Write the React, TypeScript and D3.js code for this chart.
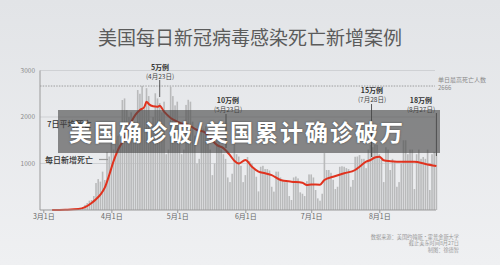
import React, { useEffect, useRef } from 'react';
import * as d3 from 'd3';

// daily new deaths, Mar 1 .. Aug 27 (one value per day)
const marchDeaths = [1, 1, 2, 3, 2, 1, 3, 4, 5, 6, 8, 7, 12, 10, 14, 20, 28, 40, 60, 110, 150, 200, 215, 300, 580, 665, 610, 825, 645, 1250, 1150];
const aprilDeaths = [1650, 1300, 1500, 1600, 1400, 2365, 2400, 2150, 2000, 2100, 1900, 1600, 2580, 2500, 2666, 2200, 2620, 2450, 1700, 2000, 2510, 2400, 2300, 2100, 2330, 1200, 1300, 2650, 2450, 2250];
const mayDeaths = [2330, 1800, 1200, 1300, 2260, 2370, 2330, 1900, 1600, 1000, 1100, 1800, 1750, 1800, 1650, 1300, 750, 1000, 1500, 1500, 1300, 1200, 1100, 700, 600, 780, 1500, 1200, 1150, 950, 600];
const juneDeaths = [750, 1140, 1050, 1000, 900, 715, 400, 930, 950, 880, 880, 850, 500, 395, 825, 825, 700, 645, 600, 600, 300, 215, 700, 720, 680, 380, 350, 300, 620, 765];
const julyDeaths = [765, 700, 430, 250, 200, 350, 1225, 860, 860, 800, 650, 450, 500, 930, 940, 930, 900, 880, 500, 645, 1145, 1150, 1180, 1100, 1100, 900, 1300, 1400, 1350, 1400, 1400];
const augustDeaths = [1200, 1075, 600, 1350, 1300, 860, 1100, 1050, 500, 600, 1000, 1500, 1500, 1200, 1300, 1300, 450, 1200, 1300, 1100, 1140, 1100, 1300, 430, 1200, 1250, 1225];

// 7-day average (day index from Mar 1, value)
const avgDay = [4, 10, 16, 19, 22, 24, 26, 28, 30, 32, 34, 37, 39, 42, 44, 46, 47, 48, 50, 52, 53, 55, 58, 61, 63, 66, 70, 73, 76, 79, 82, 85, 87, 89, 92, 95, 98, 101, 104, 108, 113, 118, 120, 122, 126, 128, 132, 137, 142, 144, 147, 149, 151, 153, 155, 158, 161, 165, 169, 174, 179];
const avgDeaths = [0, 5, 20, 60, 150, 230, 330, 480, 750, 1050, 1290, 1550, 1785, 2050, 2150, 2215, 2330, 2280, 2230, 2220, 2240, 2115, 1980, 1900, 1860, 1830, 1720, 1685, 1550, 1400, 1330, 1180, 1060, 1000, 1075, 930, 825, 790, 750, 645, 610, 585, 540, 550, 545, 645, 715, 790, 860, 930, 1040, 1075, 1130, 1145, 1070, 1050, 1040, 1040, 1040, 990, 945];

const yTicks = [1000, 2000, 3000];
const monthTicks = [2, 3, 4, 5, 6, 7]; // Mar .. Aug (0-based months)
const maxDeaths = 2666;

// milestones: cumulative cases label, date label, day index
const milestoneLabels = ['5万例', '10万例', '15万例', '18万例'];
const milestoneDates = ['(4月23日)', '(5月23日)', '(7月28日)', '(8月27日)'];
const milestoneDays = [53, 83, 149, 179];

const sourceLines = ['数据来源：美国约翰斯·霍普金斯大学', '截止美东时间8月27日', '制图：徐德智'];

const FONT = '"Noto Sans CJK SC", "Noto Sans", sans-serif';

const App: React.FC = () => {
  const svgRef = useRef<SVGSVGElement | null>(null);

  useEffect(() => {
    if (!svgRef.current) return;
    const width = 500, height = 265;
    const svg = d3.select(svgRef.current);
    svg.selectAll('*').remove();

    const daily = [...marchDeaths, ...aprilDeaths, ...mayDeaths, ...juneDeaths, ...julyDeaths, ...augustDeaths];
    const start = new Date(Date.UTC(2020, 2, 1));
    const day = (i: number) => d3.utcDay.offset(start, i);

    const x = d3.scaleUtc()
      .domain([start, new Date(Date.UTC(2020, 7, 1))])
      .range([43.3, 379.3]);
    const y = d3.scaleLinear().domain([0, 3000]).range([210, 70.5]);
    const left = 40, right = 436;

    const defs = svg.append('defs');
    const grad = defs.append('linearGradient').attr('id', 'bg').attr('x1', 0).attr('y1', 0).attr('x2', 0).attr('y2', 1);
    grad.append('stop').attr('offset', '0%').attr('stop-color', '#e2e4e7');
    grad.append('stop').attr('offset', '100%').attr('stop-color', '#eff0f2');
    svg.append('rect').attr('width', width).attr('height', height).attr('fill', 'url(#bg)');

    svg.append('text')
      .attr('x', 250).attr('y', 45)
      .attr('text-anchor', 'middle')
      .attr('font-family', FONT).attr('font-size', 19)
      .attr('fill', '#5b5b5b')
      .text('美国每日新冠病毒感染死亡新增案例');

    // grid
    svg.append('g').selectAll('line').data(yTicks).join('line')
      .attr('x1', left).attr('x2', 435)
      .attr('y1', d => y(d)).attr('y2', d => y(d))
      .attr('stroke', '#cfd1d4').attr('stroke-width', 1);

    svg.append('g')
      .attr('font-family', FONT).attr('font-size', 6.5).attr('fill', '#8a8a8a')
      .attr('text-anchor', 'end')
      .selectAll('text').data(yTicks).join('text')
      .attr('x', 35).attr('y', d => y(d)).attr('dy', '0.35em')
      .text(d => d);

    // bars
    svg.append('g').selectAll('rect').data(daily).join('rect')
      .attr('x', (d, i) => x(day(i)) - 0.8)
      .attr('width', 1.6)
      .attr('y', d => y(d))
      .attr('height', d => y(0) - y(d))
      .attr('fill', '#b9babb');

    // max line
    svg.append('line')
      .attr('x1', left).attr('x2', 435)
      .attr('y1', y(maxDeaths)).attr('y2', y(maxDeaths))
      .attr('stroke', '#8c8c8c').attr('stroke-width', 0.8)
      .attr('stroke-dasharray', '1.5,1.2');
    svg.append('text')
      .attr('x', 438).attr('y', 81.5)
      .attr('font-family', FONT).attr('font-size', 6).attr('fill', '#8a8a8a')
      .text('单日最高死亡人数');
    svg.append('text')
      .attr('x', 438).attr('y', 89.5)
      .attr('font-family', FONT).attr('font-size', 6).attr('fill', '#8a8a8a')
      .text(maxDeaths);

    // 7-day average
    const line = d3.line<number>()
      .x((d, i) => x(day(avgDay[i])))
      .y(d => y(d))
      .curve(d3.curveMonotoneX);
    svg.append('path')
      .attr('d', line(avgDeaths))
      .attr('fill', 'none')
      .attr('stroke', '#e0321e')
      .attr('stroke-width', 2)
      .attr('stroke-linejoin', 'round');

    // axes
    svg.append('line')
      .attr('x1', left).attr('x2', left).attr('y1', y(3000)).attr('y2', y(0))
      .attr('stroke', '#9a9a9a');
    svg.append('line')
      .attr('x1', left).attr('x2', right).attr('y1', y(0)).attr('y2', y(0))
      .attr('stroke', '#9a9a9a');

    const xAxis = d3.axisBottom(x)
      .tickValues(monthTicks.map(m => new Date(Date.UTC(2020, m, 1))))
      .tickFormat(d => d3.utcFormat('%-m月%-d日')(d as Date))
      .tickSize(3)
      .tickSizeOuter(0);
    const gx = svg.append('g').attr('transform', `translate(0,${y(0)})`).call(xAxis);
    gx.select('.domain').remove();
    gx.selectAll('line').attr('stroke', '#9a9a9a');
    gx.selectAll('text')
      .attr('font-family', FONT).attr('font-size', 7).attr('fill', '#666')
      .attr('dy', '0.9em').attr('y', 3);

    // legend labels (the first sits under the banner, as in the source image)
    svg.append('text')
      .attr('x', 47).attr('y', 127)
      .attr('font-family', FONT).attr('font-size', 8).attr('font-weight', 500).attr('fill', '#333')
      .text('7日平均死亡');
    svg.append('line')
      .attr('x1', 99).attr('x2', 108).attr('y1', 124).attr('y2', 124)
      .attr('stroke', '#e0321e').attr('stroke-width', 1.5);
    svg.append('text')
      .attr('x', 45).attr('y', 162.5)
      .attr('font-family', FONT).attr('font-size', 8).attr('font-weight', 500).attr('fill', '#333')
      .text('每日新增死亡');
    svg.append('line')
      .attr('x1', 99).attr('x2', 108).attr('y1', 159.5).attr('y2', 159.5)
      .attr('stroke', '#999').attr('stroke-width', 1.2);

    // milestones
    const labelX = [160, 228, 372, 421];
    const labelY = [69.5, 102.5, 92.5, 102.5];
    const lineTop = [80, 114, 104, 113];
    const lineBottom = [97, 148, 157, 156];
    const lineX = [x(day(milestoneDays[0])), 226, x(day(milestoneDays[2])) + 1, x(day(milestoneDays[3]))];
    milestoneLabels.forEach((lab, i) => {
      svg.append('text')
        .attr('x', labelX[i]).attr('y', labelY[i])
        .attr('text-anchor', 'middle')
        .attr('font-family', FONT).attr('font-size', 7).attr('font-weight', 'bold').attr('fill', '#333')
        .text(lab);
      svg.append('text')
        .attr('x', labelX[i]).attr('y', labelY[i] + 9)
        .attr('text-anchor', 'middle')
        .attr('font-family', FONT).attr('font-size', 6.5).attr('fill', '#444')
        .text(milestoneDates[i]);
      svg.append('line')
        .attr('x1', lineX[i]).attr('x2', lineX[i])
        .attr('y1', lineTop[i]).attr('y2', lineBottom[i])
        .attr('stroke', '#333').attr('stroke-width', 0.8);
    });

    // overlay banner
    svg.append('rect')
      .attr('x', 58).attr('y', 110).attr('width', 382).attr('height', 43)
      .attr('fill', '#474747').attr('opacity', 0.62);
    svg.append('text')
      .attr('x', 69).attr('y', 141)
      .attr('font-family', FONT).attr('font-size', 23).attr('font-weight', 'bold')
      .attr('fill', '#fff')
      .attr('textLength', 334).attr('lengthAdjust', 'spacing')
      .attr('style', 'text-shadow: 0 0 2px rgba(0,0,0,0.5)')
      .text('美国确诊破/美国累计确诊破万');

    // source
    svg.append('g')
      .attr('font-family', FONT).attr('font-size', 5.2).attr('fill', '#999')
      .attr('text-anchor', 'end')
      .selectAll('text').data(sourceLines).join('text')
      .attr('x', 459).attr('y', (d, i) => 239 + i * 6.3)
      .text(d => d);
  }, []);

  return (
    <svg
      ref={svgRef}
      width={500}
      height={265}
      style={{ position: 'fixed', left: 0, top: 0, display: 'block' }}
    />
  );
};

export default App;
